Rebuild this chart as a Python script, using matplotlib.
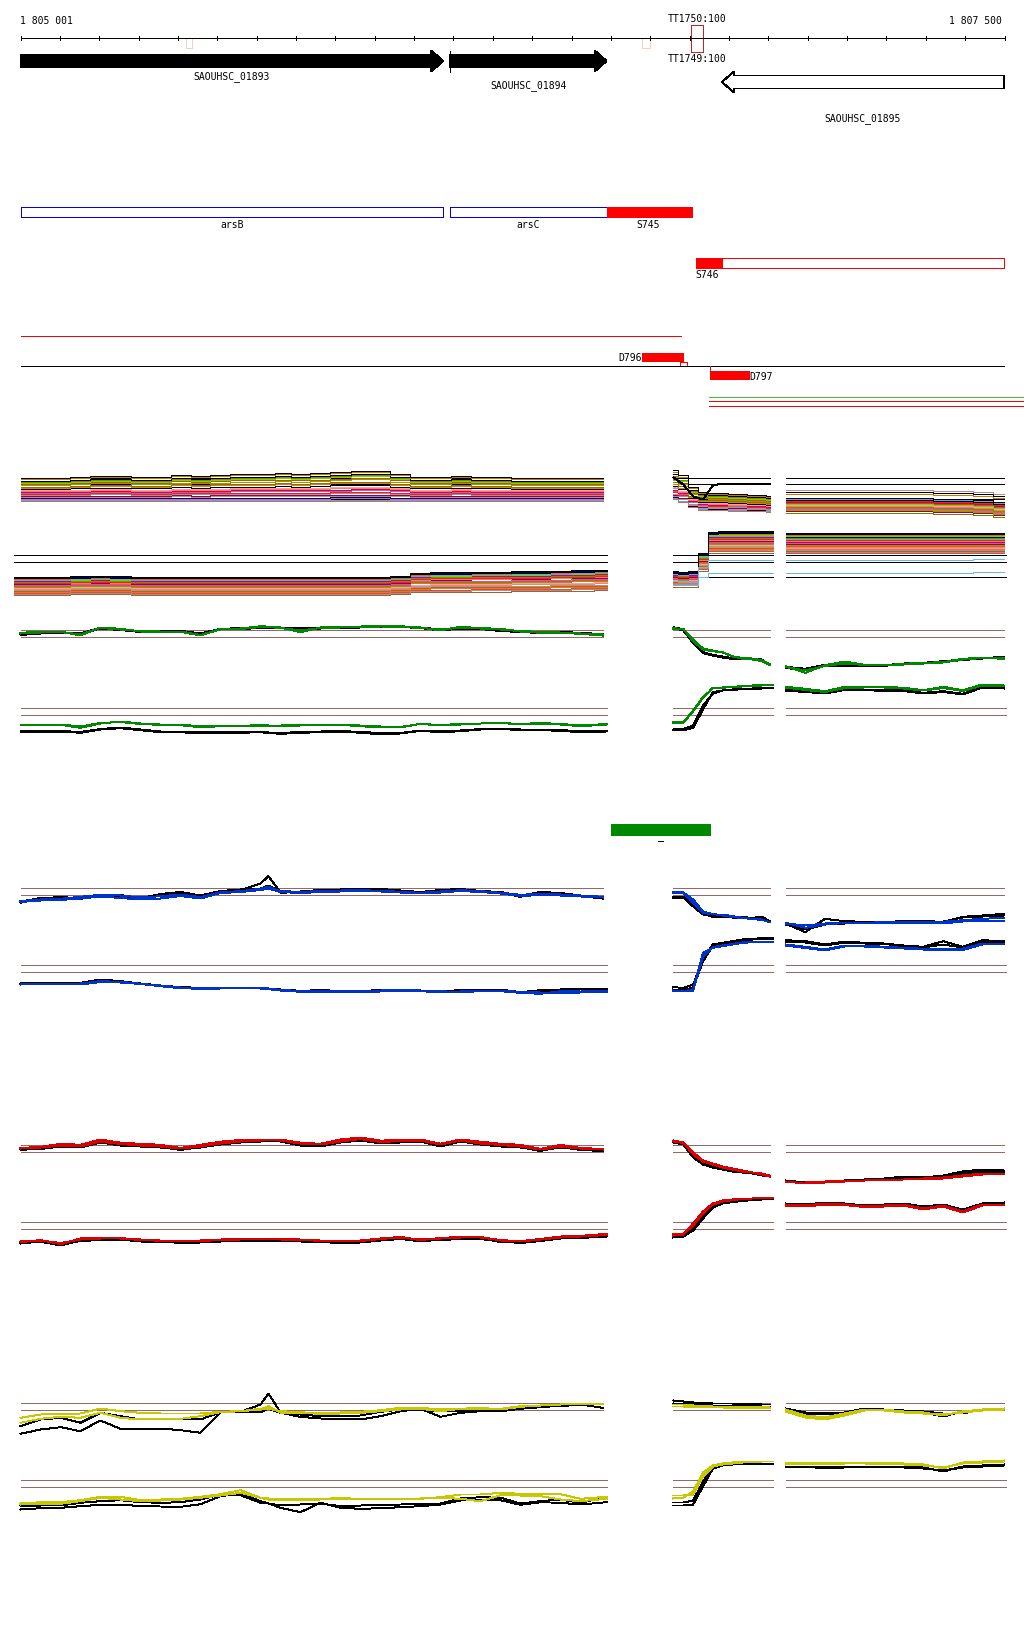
import numpy as np
import matplotlib
matplotlib.use("Agg")
import matplotlib.pyplot as plt
from matplotlib.patches import Polygon, Rectangle

# ======================= DATA =======================
REGION_START = 1805001
REGION_END = 1807501
TICK_STEP = 100
LABEL_LEFT = '1 805 001'
LABEL_RIGHT = '1 807 500'

GENE_NAMES = ['SAOUHSC_01893', 'SAOUHSC_01894', 'SAOUHSC_01895']
GENE_START = [1805001, 1806092, 1806783]
GENE_END = [1806075, 1806490, 1807500]
GENE_STRAND = ['+', '+', '-']
GENE_FILLED = [True, True, False]

TSS_NAMES = ['TT1750:100', 'TT1749:100']
TSS_START, TSS_END = 1806704, 1806734
MARK_START = [1805422, 1806581]
MARK_END = [1805437, 1806601]

FEAT_NAMES = ['arsB', 'arsC']
FEAT_START = [1805001, 1806092]
FEAT_END = [1806075, 1806490]
S745 = (1806490, 1806708)
S746 = (1806716, 1807500)
S746_CORE_END = 1806784
D796 = (1806581, 1806683)
D796_SMALL = (1806676, 1806695)
D797 = (1806752, 1806852)
RED_LINE = (1805001, 1806678)
BLACK_LINE = (1805001, 1807500)
TAIL_LINES_START = 1806751
GREEN_BAR = (1806500, 1806753)

# probe grids (bp)
LEFT_POS = [1805001, 1805052, 1805103, 1805153, 1805204, 1805255, 1805306, 1805357,
            1805408, 1805458, 1805509, 1805560, 1805611, 1805631, 1805662, 1805712,
            1805763, 1805814, 1805865, 1805916, 1805966, 1806017, 1806068, 1806119,
            1806170, 1806221, 1806271, 1806322, 1806373, 1806424, 1806480]
LEFT_POS_LO = LEFT_POS[:-1] + [1806490]
MID_POS = [1806660, 1806685, 1806710, 1806735, 1806760, 1806785, 1806810, 1806835,
           1806860, 1806885, 1806905]
MID_POS_LO = [1806658] + MID_POS[1:-1] + [1806914]
RIGHT_POS = [1806945, 1806995, 1807045, 1807095, 1807145, 1807195, 1807245, 1807295,
             1807345, 1807395, 1807445, 1807500]

# ---- section 1 (many samples) ----
S1_UP_COLORS = ['#000000', '#cc7700', '#000000', '#888800', '#66dd00', '#bb5500', '#999900',
                '#7a7a00', '#dd7722', '#000000', '#ff99aa', '#ff7755', '#cc0066', '#aa66aa',
                '#ee2222', '#bb8888', '#990055', '#999999', '#000055', '#55aaee', '#dd6644',
                '#cc66cc']
S1_UP_HUMP_LEFT = [0, 0, 0, 1, 2, 2, 1, 1, 3, 2, 3, 4, 4, 4, 5, 4, 5, 6, 7, 7, 4, 1, 1, 2, 1, 1,
                   0, 0, 0, 0, 0]
S1_UP_LEVEL_LEFT = [21, 19.5, 18, 17, 16, 15, 13.5, 12, 11, 9.5, 8.5, 7.5, 6.5, 5.5, 4.5, 3.5,
                    2.5, 1.5, 0.5, -1.5, -2.5, -0.5]
S1_UP_W_LEFT = [1, 1, 0.9, 0.9, 0.9, 0.8, 0.8, 0.7, 0.7, 0.6, 0.5, 0.5, 0.4, 0.4, 0.3, 0.3,
                0.2, 0.2, 0.1, 0, 0, 0.1]
S1_UP_DROP_MID = [27, 22, 9, 4, 3, 3, 2, 2, 1, 1, 0]
S1_UP_LEVEL_MID = [3, 2, 1, 0, -1, -2, -3, -4, -5, -6, -7, -7.5, -8, -8.5, -9, -10, -10.5,
                   -11, -11.5, -12, -13, -12.5]
S1_UP_W_MID = [0.93, 0.9, 0.87, 0.85, 0.83, 0.8, 0.78, 0.75, 0.72, 0.7, 0.67, 0.65, 0.62,
               0.6, 0.57, 0.55, 0.52, 0.5, 0.48, 0.45, 0.45, 0.47]
S1_UP_LEVEL_RIGHT = [7, 5, -1, -8, -5, -4, -11, -14, -10, 1, -6, -7, -3, -9, -2, 9, -12,
                     -8.5, -6.5, 0, -3.5, -5.5]
S1_UP_TAIL_RIGHT = [0, 0, 0, 0, 0, 0, 0, 0, -1, -1, -2, -4]
S1_UP_SPECIAL_MID = [21, 14, 2, -1, 13, 15, 15, 15, 15, 15, 15]

S1_LO_COLORS = ['#000000', '#000055', '#000000', '#cc7700', '#55aaee', '#66dd00', '#cc0066',
                '#888800', '#ee2222', '#ff7755', '#990055', '#aa66aa', '#dd5522', '#999900',
                '#ff99aa', '#ee8866', '#999999', '#ff6633', '#bb8888', '#996633', '#cc5533',
                '#bb6600']
S1_LO_HUMP_LEFT = [0, 0, 0, 0.5, 1, 0.5, 0, 0, 0, 0, 0, 0, 0, 0, 0, 0, 0, 0, 0, 0, 1, 4, 4.5,
                   4.5, 5, 5, 5.5, 5.5, 6, 6.5, 7]
S1_LO_LEVEL_LEFT = [0, -0.5, -1.5, -2, -3, -3.5, -4, -5, -6, -6.5, -7, -8, -9, -10, -11, -12,
                    -13, -15, -17, -18, -16, -14]
S1_LO_W_LEFT = [1, 1, 1, 1, 0.95, 0.95, 0.9, 0.9, 0.9, 0.85, 0.85, 0.8, 0.8, 0.8, 0.75, 0.75,
                0.7, 0.7, 0.65, 0.6, 0.65, 0.7]
S1_LO_RISE_MID = [-40, -41, -40, -22, -1, 0, 0, 0, 0, 0, 0]
S1_LO_LEVEL_MID = [46, 45, 44, 43, 41, 42, 40, 39, 38, 37, 36, 35, 34, 33, 32, 31, 30, 28, 27,
                   24, 26, 29]
S1_LO_W_MID = [1, 1, 1, 0.98, 0.97, 0.96, 0.95, 0.94, 0.93, 0.92, 0.91, 0.9, 0.9, 0.89, 0.88,
               0.87, 0.86, 0.85, 0.85, 0.85, 0.85, 0.86]
S1_LO_LEVEL_RIGHT = [43, 44, 40, 42, 38, 41, 35, 39, 37, 36, 33, 34, 31, 32, 29, 30, 27, 28,
                     25, 26, 24, 36.5]
S1_LO_TAIL_RIGHT = [0, 0, 0, 0, 0, 0, 0, 0, 0, 0, 0, 0]
S1_LO_LB1_MID = [-4, -4, -5, 10, 17, 17, 17, 17, 17, 17, 17]
S1_LO_LB1_RIGHT = [17, 17, 17, 17, 17, 17, 17, 17, 17, 17, 17.5, 18]
S1_LO_LB2_MID = [-8, -8, -8, 0, 4, 4, 4, 4, 4, 4, 4]
S1_LO_LB2_RIGHT = [4, 4, 4, 4, 4, 4, 4, 4, 4, 4, 4.5, 4.5]

# ---- section 2 (green) ----
S2_UP_LEFT = {
    'c1': [3.7, 4.7, 5, 1, 9, 7.7, 5, 4.7, 4.7, 1, 7.7, 8, 10.3, 9.8, 9, 4.3, 9, 9.7, 10, 10.7,
           10.3, 9, 6, 9.7, 8.3, 7.7, 5, 3.7, 3.7, 2.7, 1],
    'c2': [3, 4, 4.5, 2, 8.5, 7, 5.5, 5, 5, 1.5, 7, 7.5, 9.5, 9.5, 8.5, 6, 8.5, 9, 9.5, 10, 9.8,
           8.5, 7, 9, 8, 7, 5.5, 4.5, 4, 3, 2],
    'k1': [2, 3.7, 4.3, 3, 8.7, 7, 5, 5.3, 5.7, 3, 7.7, 8.3, 9.3, 9.2, 9, 8, 8.7, 9, 9.7, 10, 10,
           9, 7, 8.7, 8, 6, 5, 4.3, 5, 3.3, 2.7],
    'k2': [1.5, 3, 4, 2.5, 8, 6.5, 4.5, 4.5, 5, 2, 7, 7.5, 8.5, 8.5, 8.5, 7, 8, 8.5, 9, 9.5, 9.5,
           8.5, 6, 8, 7.5, 5.5, 4.5, 3.5, 4, 3, 2]}
S2_UP_MID = {
    'c1': [7.7, 7.7, -4.7, -13, -14.7, -15.7, -19.7, -22.3, -23, -24.7, -28.7],
    'c2': [8.5, 7, -3, -12, -14, -16, -20, -21.5, -22, -24, -28],
    'k1': [9.3, 7, -5.7, -15.7, -18.3, -20, -21.7, -22, -22, -23, -28.7],
    'k2': [8.5, 6, -6.5, -16.5, -19, -21, -22.5, -23, -23, -24, -28]}
S2_UP_RIGHT = {
    'c1': [-29.7, -36.3, -28.7, -25, -28.3, -28.7, -27.3, -26.3, -25.7, -22.3, -21.3, -22.3],
    'c2': [-30.5, -34, -29.5, -27, -28.5, -29, -28, -27, -26, -23, -21.5, -21],
    'k1': [-30.3, -32.3, -28.3, -29, -29, -28.7, -27, -26.3, -24.7, -23, -21.3, -20.7],
    'k2': [-31.5, -33.5, -29, -29.5, -29.5, -29.3, -27.5, -27, -25.5, -23.5, -22, -21.5]}
S2_LO_LEFT = {
    'c1': [-11, -11, -10.3, -13.3, -9, -7, -9, -10.7, -10.7, -12.7, -11.7, -11.7, -11, -11.3,
           -11.7, -11, -11, -10.3, -11.7, -13, -13, -9.3, -11, -10, -9, -8.3, -10, -9, -10,
           -11.7, -10],
    'c2': [-10, -10.5, -10, -12, -8.5, -7.5, -9.5, -10, -10, -12, -11, -11.5, -10.5, -11, -11,
           -10.5, -10.5, -10.5, -11, -12, -12.5, -9.5, -10.5, -9.5, -9, -8.5, -9.5, -8.5, -9.5,
           -11, -9.5],
    'k1': [-17.3, -17.3, -17, -18.3, -15, -13.7, -15.7, -17.7, -17.7, -19, -18.3, -18.3, -17.7,
           -18.5, -19.3, -18.3, -17.7, -17, -18.3, -19.7, -19, -16.3, -17.7, -16.7, -15, -14.3,
           -15.7, -15.7, -16.3, -17.7, -17],
    'k2': [-16.5, -16.5, -16.5, -17.5, -14.5, -13, -15, -17, -17, -18, -17.5, -17.5, -17, -18,
           -18.5, -17.5, -17, -16.5, -17.5, -18.5, -18.5, -16, -17, -16, -14.5, -14, -15, -15,
           -15.5, -17, -16.5]}
S2_LO_MID = {
    'c1': [-8.3, -8.3, 3.3, 16.7, 26.7, 26.7, 27.7, 28.3, 29, 29.3, 29.3],
    'c2': [-7.5, -8, 4, 17.5, 26, 27, 27.5, 28, 28.5, 29, 29.5],
    'k1': [-16, -15.7, -13.3, 5, 22.3, 24, 24.7, 25.3, 25.7, 26, 26],
    'k2': [-15, -14.5, -11, 9, 21, 24, 25, 25.5, 26, 26.5, 26.5]}
S2_LO_RIGHT = {
    'c1': [27.7, 25.7, 23.3, 27.7, 27.7, 27.7, 26.7, 24.3, 27.7, 24.3, 30, 29],
    'c2': [27, 24.5, 22.5, 26.5, 27, 27, 26, 24, 26.5, 23.5, 29, 28.5],
    'k1': [25, 23.3, 21.7, 25.7, 25, 24.3, 24, 21.7, 23.3, 20.7, 27.7, 26.7],
    'k2': [24, 22.5, 21, 24.5, 24.5, 23.5, 23.5, 21, 22.5, 20, 27, 26]}

# ---- section 3 (blue) ----
S3_UP_LEFT = {
    'c1': [-6.7, -5, -4.3, -2.3, -0.3, -1, -3, -1.7, 0, -2.7, 2.3, 3.3, 5.7, 7.7, 3.3, 2.7, 3.3,
           4, 4.3, 3.7, 2.7, 1.7, 3, 4.3, 3.3, 1.7, -0.3, 0.7, 0, -1, -2.3],
    'c2': [-7.5, -6, -5.5, -4, -2, -3.5, -5, -4, -1.5, -4, 1.5, 2.5, 4.5, 6, 2.5, 1.5, 2.5, 3,
           3.5, 3, 2, 1, 2, 3.5, 2.5, 1, -1.5, -0.5, -1, -2, -3],
    'k1': [-8.3, -4.3, -2.3, -4.3, -1, -1.7, -4.3, -0.3, 1.7, -1.7, 2.7, 4.3, 11, 18.3, 1.7, 2.7,
           3.7, 4.3, 5.7, 5, 3.3, 1.7, 4, 5, 2.7, 1.7, -2.3, 2, 0.7, -1.7, -4],
    'k2': [-7, -3.5, -3, -3.5, -0.5, -0.5, -3.5, 0.5, 2.5, -1, 3.5, 5, 6, 9, 2.5, 3, 4.5, 5, 6,
           5.5, 4, 2.5, 4.5, 5.5, 3.5, 2.5, -1.5, 2.5, 1.5, -1, -3]}
S3_UP_MID = {
    'c1': [1.7, 1.7, -8.3, -18.3, -20, -20, -21.7, -23.3, -24.3, -25, -27.7],
    'c2': [2.5, 2, -5, -17, -19.5, -21, -22.5, -23.5, -24.5, -25.5, -27.5],
    'k1': [-3.3, -3.3, -10, -19, -22.3, -22.3, -22.7, -22.7, -23.3, -22.3, -26.7],
    'k2': [-2.5, -2.5, -12, -20, -21.5, -22, -23, -23.5, -24, -23, -27]}
S3_UP_RIGHT = {
    'c1': [-28.3, -33.3, -30, -28.3, -28.3, -27.7, -27.7, -27.3, -27.3, -25.7, -24.3, -23.3],
    'c2': [-29, -31, -29, -28.5, -28.5, -28.5, -29, -29, -29, -27, -26.5, -26.5],
    'k1': [-29, -37.7, -24.3, -26.7, -27.3, -28.3, -26, -26, -27.7, -22.3, -21, -19.3],
    'k2': [-30, -35, -30, -29, -28, -27.5, -27, -27, -27, -23, -22, -21]}
S3_LO_LEFT = {
    'c1': [-13, -12, -12.3, -12, -9.7, -10.3, -12.3, -14.7, -16.7, -17.3, -17, -16.3, -17, -17.7,
           -19, -20.3, -20.7, -20.7, -20.3, -20, -19, -19.7, -20.7, -20, -19, -19.7, -21.3,
           -22.3, -19.7, -20, -19.3],
    'c2': [-12.5, -12.5, -13, -13, -10.5, -11, -12.5, -14, -16, -16.5, -16.5, -16, -16.5, -17,
           -18.5, -19.5, -19.5, -19.5, -19.5, -19, -18.5, -19, -19.5, -21, -19.5, -19, -20.5,
           -21, -21.5, -21, -20.5],
    'k1': [-12, -11.3, -12, -11.3, -8, -9.7, -12, -14, -15.7, -16.3, -16, -16.3, -16.3, -17, -18,
           -19.3, -18.7, -19.3, -19.3, -18.7, -18, -19, -19.7, -18.7, -18, -18, -20.7, -18.7,
           -18, -17.3, -17],
    'k2': [-12.5, -12, -12.5, -12, -9, -10, -12.5, -14.5, -16.5, -17, -16.5, -17, -17, -17.5,
           -19, -20, -19.5, -20, -20, -19.5, -18.5, -19.5, -20, -19.5, -18.5, -18.5, -21, -19.5,
           -18.5, -18, -17.5]}
S3_LO_MID = {
    'c1': [-19, -19.7, -18, 18.7, 23.7, 25.3, 27, 28.7, 29.3, 29.7, 29.7],
    'c2': [-20, -20, -19, 15, 24.5, 26, 27.5, 29, 29.5, 30, 30],
    'k1': [-15.7, -16.3, -13, 12, 27, 28.7, 30.3, 32, 32.7, 33.3, 33.7],
    'k2': [-18, -18.5, -16, 10, 26, 28, 29.5, 31, 32, 32.5, 33]}
S3_LO_RIGHT = {
    'c1': [27, 24.7, 22, 26, 26, 24.7, 23.7, 22.7, 22, 22.7, 28, 28],
    'c2': [26, 23.5, 21, 25, 25, 24, 23, 22, 21, 21.5, 27, 27],
    'k1': [31.3, 30.3, 27, 30, 28.7, 28, 26, 24.7, 30.3, 24.7, 31.3, 30.3],
    'k2': [30, 29, 26, 29, 28, 27.5, 25.5, 24, 27, 24, 30, 29.5]}

# ---- section 4 (red) ----
S4_UP_LEFT = {
    'c1': [3.5, 4.6, 7.7, 6.7, 12, 8.8, 7.7, 6.7, 3.5, 6.7, 9.8, 11.5, 12, 12, 12, 8.8, 7.7, 12,
           14, 10.9, 11.5, 12, 7.7, 12, 9.8, 7.7, 6.7, 2.5, 6.7, 3.5, 2.5],
    'c2': [3, 4, 6, 5, 10, 7.5, 6, 5, 3, 5, 8, 10, 11, 11, 11, 8, 7, 10, 12.5, 9.5, 10.5, 11, 7,
           11, 8, 6.5, 5, 2, 5, 3, 2],
    'k1': [1.5, 3, 5.5, 4.5, 9.5, 6.5, 5.5, 4.5, 1.5, 4.5, 7.5, 9.5, 10.5, 10.5, 10.5, 6.5, 5.5,
           9.5, 12, 8.5, 9.5, 10.5, 5.5, 10.5, 7.5, 5.5, 4.5, 0.5, 4.5, 1.5, 0.5],
    'k2': [2, 2.5, 5, 4, 9, 6, 5, 4, 2, 4, 7, 9, 10, 10, 10, 6, 5, 9, 11, 8, 9, 10, 5, 10, 7, 5, 4,
           1, 4, 2, 1]}
S4_UP_MID = {
    'c1': [11, 9, -3, -10, -13, -16, -18, -20, -21, -23, -25],
    'c2': [10, 8.5, -1, -9, -12, -15, -17, -19, -21, -22, -24],
    'k1': [10, 8, -5, -12, -15, -17, -19, -21, -22, -23, -25],
    'k2': [9, 7, -6, -13, -16, -18, -20, -21, -22, -24, -25]}
S4_UP_RIGHT = {
    'c1': [-30, -32, -31, -30, -29, -28, -28, -27, -26, -24, -22, -22],
    'c2': [-31, -31, -30, -29.5, -29, -28.5, -28, -27.5, -27, -25, -23, -23],
    'k1': [-29, -31, -30, -29, -28, -27, -25, -26, -24, -20, -18, -19],
    'k2': [-30, -32, -31, -30, -29, -28, -27, -27, -26, -22, -20, -21]}
S4_LO_LEFT = {
    'c1': [-13.6, -11.6, -15.7, -10, -9.5, -9.5, -11.6, -12, -12.6, -12, -11, -10.5, -10.5, -10.5,
           -10.5, -11, -12.6, -12.6, -12, -10, -8.4, -11.6, -9.5, -8.4, -8.4, -12, -12.6, -10.5,
           -8, -7.4, -5.3],
    'c2': [-13, -12, -14.5, -11, -10, -10, -11, -12.5, -13, -12.5, -11.5, -11, -11, -11, -11,
           -11.5, -12, -13, -12.5, -10.5, -9, -11, -10, -9, -9, -11.5, -13, -11, -9, -8, -6.5],
    'k1': [-15, -13, -17, -12, -11, -11, -13, -13.5, -14, -13.5, -12.5, -12, -12, -12, -12, -12.5,
           -14, -14, -13.5, -11.5, -10, -13, -11, -10, -10, -13.5, -14, -12, -9.5, -9, -7],
    'k2': [-14.5, -13.5, -16, -12.5, -11.5, -11.5, -12.5, -13, -14.5, -14, -13, -12.5, -12.5,
           -12.5, -12.5, -13, -13.5, -14.5, -14, -12, -10.5, -12.5, -11.5, -10.5, -10.5, -13,
           -14.5, -12.5, -10, -9.5, -8]}
S4_LO_MID = {
    'c1': [-6, -5, 5, 17, 25, 28, 29, 30, 30, 31, 31],
    'c2': [-7, -6, 3, 15, 24, 27, 28.5, 29.5, 30, 30.5, 30.5],
    'k1': [-8, -7, 0, 12, 22, 26, 27, 28, 29, 30, 30],
    'k2': [-9, -8, -2, 10, 21, 25, 26.5, 27.5, 28.5, 29, 29.5]}
S4_LO_RIGHT = {
    'c1': [24, 23, 25, 24, 22, 23, 24, 20, 23, 17, 24, 24],
    'c2': [23, 22, 24, 23.5, 21.5, 22, 23, 19, 22, 16, 23, 23.5],
    'k1': [25, 24, 26, 25, 23, 24, 25, 22, 24, 19, 25, 26],
    'k2': [24.5, 23.5, 25.5, 24, 22.5, 23.5, 24, 21, 23.5, 18, 24.5, 25]}

# ---- section 5 (yellow) ----
S5_UP_LEFT = {
    'c1': [-8.3, -5, -4.3, -4, 1, -1.7, -3.3, -4, -4, -4, -2.3, -1.7, 0.7, 0.7, -1.7, -2.7, -4,
           -3, -2.3, -0.7, 1.7, 1.7, 0, 0.7, 1.7, 0, 2.7, 4, 5, 5.7, 6],
    'c2': [-13.3, -9.3, -7.3, -8.3, -3.3, -8.3, -10, -9, -9.3, -6.7, -2.7, -1.7, 0, 3.3, -3.3,
           -3.3, -4.3, -4, -3.3, -1.7, 0, 0.7, -1.7, 0.7, 0.7, 0.7, 3.3, 4, 5, 5.7, 5],
    'k1': [-16.7, -10, -8.3, -13.3, -3.3, -6.7, -10, -9.3, -9.7, -10, -2.7, -2.3, -2.7, 0.7,
           -3.3, -5, -6.7, -6.3, -6, -2.3, 0, -0.7, -1.7, -1.7, -1.7, -1.7, 0.7, 2.7, 3.3, 5, 1.7],
    'k2': [-24.3, -20, -17.7, -21.7, -11, -19.3, -20, -19, -20.7, -23.3, -3, -2.3, 5, 16, -3.3,
           -7.3, -9, -9.3, -10, -6.7, -1.7, 0.7, -7.3, -3.3, -1.7, -1, 0.7, 2.3, 4, 5, 1.7]}
S5_UP_MID = {
    'c1': [5, 5, 4, 4, 3, 3, 3, 3, 2.5, 2.5, 2],
    'c2': [3, 3, 2.5, 2, 2, 2, 1.5, 1.5, 1, 1, 1],
    'k1': [9, 8, 7, 6.5, 6, 6, 6, 5.5, 5.5, 5, 5],
    'k2': [6, 5.5, 5, 4.5, 4, 4, 4, 3.5, 3.5, 3, 3]}
S5_UP_RIGHT = {
    'c1': [0, -6, -8, -4, 0, 0, -2, -3, -6, -2, 0, 1],
    'c2': [-2, -8, -10, -6, -1, -1, -3, -4, -5, -3, -1, 0],
    'k1': [1, -3, -4, -3, 1, 0, -1, -2, -4, -4, 0, 1],
    'k2': [-1, -4, -5, -4, -1, -1, -2, -3, -7, -2, -1, 0]}
S5_LO_LEFT = {
    'c1': [-17, -15.7, -15.7, -13.7, -10.3, -10.3, -13.7, -13, -12.3, -10.3, -7.7, -3.7, -11.3,
           -12, -13, -12.7, -12.3, -11.7, -12.3, -13, -12.3, -12.3, -10.7, -8, -8, -6.3, -7.3,
           -7.3, -7.7, -12.3, -10.3],
    'c2': [-18, -17.3, -17.3, -14.7, -11.3, -13, -14.7, -14, -13, -11.3, -9, -6.3, -11.3, -13,
           -13.7, -13.3, -13, -13, -13, -12.7, -12.3, -12, -11.3, -12.3, -14.7, -8.7, -9, -9.7,
           -13, -14.7, -12.3],
    'k1': [-19.7, -19, -19, -16.3, -14.7, -13.7, -15.7, -16.3, -15.7, -13, -8, -8.7, -16.3, -17,
           -19, -18, -17, -19.7, -19, -18.3, -18, -17.7, -17, -12, -10.7, -11.3, -17, -14.7, -13,
           -16.3, -10.3],
    'k2': [-23, -21.7, -21.3, -19.7, -18.3, -18, -19.7, -20, -20.3, -17.7, -9.7, -7, -14.7, -17,
           -21.3, -25.7, -16.3, -21.3, -22.3, -21.7, -20.7, -19.7, -18, -14, -13, -13.7, -18.3,
           -15.7, -16.3, -18, -15.7]}
S5_LO_MID = {
    'c1': [-9, -9, -8, 10, 20, 22, 23, 24, 24, 25, 25],
    'c2': [-12, -11, -5, 14, 21, 23, 24, 25, 25, 25, 25],
    'k1': [-19, -19, -18, 0, 18, 21, 22, 22, 23, 23, 23],
    'k2': [-16, -16, -14, 5, 19, 21, 22, 22, 22, 22, 22]}
S5_LO_RIGHT = {
    'c1': [24, 24, 23, 24, 24, 24, 23, 22, 18, 24, 25, 26],
    'c2': [22, 23, 22, 23, 23, 22.5, 22, 21, 19, 23, 24, 25],
    'k1': [20, 20, 19, 20, 20, 20, 20, 19, 15, 20, 21, 22],
    'k2': [19, 19.5, 18.5, 19, 19.5, 19, 19, 18, 16, 19, 20, 21]}

# ======================= LAYOUT / STYLE =======================
W, H = 1024, 1640
LEFT_PX, RIGHT_PX = 20, 1004
BP_PER_PX = (REGION_END - REGION_START) / (RIGHT_PX - LEFT_PX)
X_MIN = REGION_START - (LEFT_PX + 0.5) * BP_PER_PX
X_MAX = X_MIN + W * BP_PER_PX
LW = 0.7
REF_COL = '#996666'
FONT = dict(family='DejaVu Sans Mono', size=7, color='black')

PANEL_UP = [(LEFT_POS[0], LEFT_POS[-1]), (MID_POS[0], MID_POS[-1]), (RIGHT_POS[0], RIGHT_POS[-1])]
PANEL_LO = [(LEFT_POS_LO[0], LEFT_POS_LO[-1]), (MID_POS_LO[0], MID_POS_LO[-1]),
            (RIGHT_POS[0], RIGHT_POS[-1] + 5)]

fig = plt.figure(figsize=(W / 100, H / 100), dpi=100)
ax = fig.add_axes([0, 0, 1, 1])
ax.set_xlim(X_MIN, X_MAX)
ax.set_ylim(H - 0.5, -0.5)
ax.axis('off')


def seg(x0, x1, y, color, lw=LW):
    ax.plot([x0, x1], [y, y], color=color, lw=lw, antialiased=False, solid_capstyle='butt')


def rect(x0, x1, y0, y1, face='none', edge='black'):
    ax.add_patch(Rectangle((x0, y0), x1 - x0, y1 - y0, facecolor=face, edgecolor=edge,
                           lw=LW, antialiased=False))


def draw(xs, vals, base, color, steps=False):
    ys = base - np.asarray(vals, dtype=float)
    ax.plot(xs, ys, color=color, lw=LW, antialiased=False,
            drawstyle='steps-mid' if steps else 'default')


# ---- ruler ----
RULER_Y = 38
seg(REGION_START, REGION_END, RULER_Y, 'black')
for t in range(REGION_START, REGION_END + 1, TICK_STEP):
    ax.plot([t, t], [RULER_Y - 2, RULER_Y + 2], color='black', lw=LW, antialiased=False)
ax.text(REGION_START, 20, LABEL_LEFT, ha='left', va='center', **FONT)
ax.text(REGION_END - 3 * BP_PER_PX, 20, LABEL_RIGHT, ha='right', va='center', **FONT)
for s, e in zip(MARK_START, MARK_END):
    rect(s, e, 38, 48, edge='#f5d0c0')
rect(TSS_START, TSS_END, 25, 52, edge='#cc2222')
tss_c = (TSS_START + TSS_END) / 2
ax.text(tss_c, 19, TSS_NAMES[0], ha='center', va='center', **FONT)
ax.text(tss_c, 59, TSS_NAMES[1], ha='center', va='center', **FONT)

# ---- genes ----
GENE_TOP = [55, 55, 76]
GENE_LABEL_Y = [76, 85, 118]
HEAD = 12 * BP_PER_PX
for name, s, e, st, filled, top, ly in zip(GENE_NAMES, GENE_START, GENE_END, GENE_STRAND,
                                           GENE_FILLED, GENE_TOP, GENE_LABEL_Y):
    bot = top + 13
    mid = (top + bot) / 2
    if st == '+':
        hs = e - HEAD
        pts = [(s, top), (hs, top), (hs, top - 4), (e, mid), (hs, bot + 4), (hs, bot), (s, bot)]
    else:
        hs = s + HEAD
        pts = [(e, top), (hs, top), (hs, top - 4), (s, mid), (hs, bot + 4), (hs, bot), (e, bot)]
    ax.add_patch(Polygon(pts, closed=True, facecolor='black' if filled else 'white',
                         edgecolor='black', lw=LW, antialiased=False))
    ax.text((s + e) / 2, ly, name, ha='center', va='center', **FONT)
ax.plot([GENE_START[1], GENE_START[1]], [51, 72], color='black', lw=LW, antialiased=False)

# ---- features ----
for name, s, e in zip(FEAT_NAMES, FEAT_START, FEAT_END):
    rect(s, e, 207, 217, face='white', edge='#0000ee')
    ax.text((s + e) / 2, 224, name, ha='center', va='center', **FONT)
rect(S745[0], S745[1], 207, 217, face='#ff0000', edge='#ff0000')
ax.text((S745[0] + S745[1]) / 2 - 1.5 * BP_PER_PX, 224, 'S745', ha='center', va='center', **FONT)
rect(S746[0], S746[1], 258, 268, face='white', edge='#ff0000')
rect(S746[0], S746_CORE_END, 258, 268, face='#ff0000', edge='#ff0000')
ax.text(S746[0], 275, 'S746', ha='left', va='center', **FONT)

seg(RED_LINE[0], RED_LINE[1], 336, '#ff0000')
seg(BLACK_LINE[0], BLACK_LINE[1], 366, 'black')
rect(D796[0], D796[1], 353, 361, face='#ff0000', edge='#ff0000')
ax.text(D796[0] - 1 * BP_PER_PX, 357.5, 'D796', ha='right', va='center', **FONT)
rect(D796_SMALL[0], D796_SMALL[1], 362, 366, edge='#ff0000')
rect(D797[0], D797[1], 371, 379, face='#ff0000', edge='#ff0000')
ax.plot([D797[0], D797[0]], [366, 371], color='#ff0000', lw=LW, antialiased=False)
ax.text(D797[1], 376, 'D797', ha='left', va='center', **FONT)
seg(TAIL_LINES_START, X_MAX, 397, '#33cc33')
seg(TAIL_LINES_START, X_MAX, 401, '#ff0000')
seg(TAIL_LINES_START, X_MAX, 406, '#ff0000')

rect(GREEN_BAR[0], GREEN_BAR[1], 824, 835, face='#008800', edge='#008800')
gb_c = (GREEN_BAR[0] + GREEN_BAR[1]) / 2
seg(gb_c - 2 * BP_PER_PX, gb_c + 3 * BP_PER_PX, 841, 'black')

# ---- section 1 ----
S1_UP_BASE, S1_LO_BASE = 499, 577
for (x0, x1) in PANEL_UP:
    for off in (21, 15, 0):
        seg(x0, x1, S1_UP_BASE - off, 'black')
lo_left_x = [1804985] + LEFT_POS_LO[1:]
panels_lo_s1 = [(lo_left_x[0], lo_left_x[-1]), PANEL_LO[1], PANEL_LO[2]]
for (x0, x1) in panels_lo_s1:
    for off in (22, 15, 0):
        seg(x0, x1, S1_LO_BASE - off, 'black')

hump_up = np.array(S1_UP_HUMP_LEFT, float)
drop_up = np.array(S1_UP_DROP_MID, float)
tail_up = np.array(S1_UP_TAIL_RIGHT, float)
for i in range(len(S1_UP_COLORS) - 1, -1, -1):
    c = S1_UP_COLORS[i]
    draw(LEFT_POS, S1_UP_LEVEL_LEFT[i] + S1_UP_W_LEFT[i] * hump_up, S1_UP_BASE, c, True)
    draw(MID_POS, S1_UP_LEVEL_MID[i] + S1_UP_W_MID[i] * drop_up, S1_UP_BASE, c, True)
    draw(RIGHT_POS, S1_UP_LEVEL_RIGHT[i] + tail_up, S1_UP_BASE, c, True)
draw(MID_POS, S1_UP_SPECIAL_MID, S1_UP_BASE, 'black')

hump_lo = np.array(S1_LO_HUMP_LEFT, float)
rise_lo = np.array(S1_LO_RISE_MID, float)
tail_lo = np.array(S1_LO_TAIL_RIGHT, float)
for i in range(len(S1_LO_COLORS) - 1, -1, -1):
    c = S1_LO_COLORS[i]
    draw(lo_left_x, S1_LO_LEVEL_LEFT[i] + S1_LO_W_LEFT[i] * hump_lo, S1_LO_BASE, c, True)
    draw(MID_POS_LO, S1_LO_LEVEL_MID[i] + S1_LO_W_MID[i] * rise_lo, S1_LO_BASE, c, True)
    draw(RIGHT_POS, S1_LO_LEVEL_RIGHT[i] + tail_lo, S1_LO_BASE, c, True)
for mid, right in ((S1_LO_LB1_MID, S1_LO_LB1_RIGHT), (S1_LO_LB2_MID, S1_LO_LB2_RIGHT)):
    draw(MID_POS_LO, mid, S1_LO_BASE, '#66bbee', True)
    draw(RIGHT_POS, right, S1_LO_BASE, '#66bbee', True)

# ---- sections 2-5 ----
SECTIONS = [
    ('#008800', 637, 715, (S2_UP_LEFT, S2_UP_MID, S2_UP_RIGHT), (S2_LO_LEFT, S2_LO_MID, S2_LO_RIGHT)),
    ('#0033cc', 895, 972, (S3_UP_LEFT, S3_UP_MID, S3_UP_RIGHT), (S3_LO_LEFT, S3_LO_MID, S3_LO_RIGHT)),
    ('#dd0000', 1152, 1229, (S4_UP_LEFT, S4_UP_MID, S4_UP_RIGHT), (S4_LO_LEFT, S4_LO_MID, S4_LO_RIGHT)),
    ('#c8c800', 1410, 1487, (S5_UP_LEFT, S5_UP_MID, S5_UP_RIGHT), (S5_LO_LEFT, S5_LO_MID, S5_LO_RIGHT)),
]
for col, up_base, lo_base, up, lo in SECTIONS:
    for (x0, x1) in PANEL_UP:
        seg(x0, x1, up_base - 7, REF_COL)
        seg(x0, x1, up_base, REF_COL)
    for (x0, x1) in PANEL_LO:
        seg(x0, x1, lo_base - 7, REF_COL)
        seg(x0, x1, lo_base, REF_COL)
    for grids, panels, base in (((LEFT_POS, MID_POS, RIGHT_POS), up, up_base),
                                ((LEFT_POS_LO, MID_POS_LO, RIGHT_POS), lo, lo_base)):
        for xs, d in zip(grids, panels):
            for key, c in (('k2', 'black'), ('k1', 'black'), ('c2', col), ('c1', col)):
                draw(xs, d[key], base, c)

fig.savefig('out.png', dpi=100)
